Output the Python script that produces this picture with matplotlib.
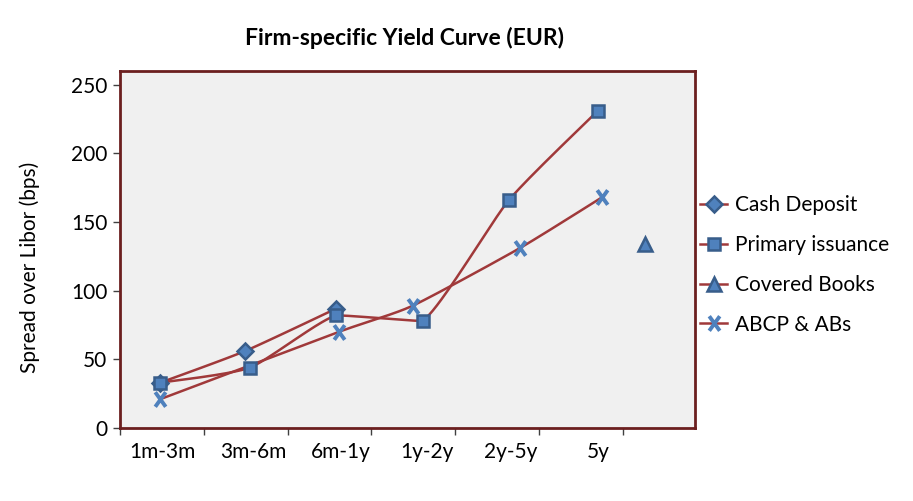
import numpy as np
import matplotlib
matplotlib.use("Agg")
import matplotlib.pyplot as plt
from matplotlib.lines import Line2D
from matplotlib.path import Path

# Данные
categories = ["1m-3m", "3m-6m", "6m-1y", "1y-2y", "2y-5y", "5y"]
category_x = [0.51, 1.59, 2.63, 3.66, 4.66, 5.70]

cash_x = [0.48, 1.49, 2.58]
cash_y = [33, 56, 87]

primary_x = [0.48, 1.55, 2.58, 3.61, 4.64, 5.70]
primary_y = [33, 44, 82, 78, 166, 231]

covered_x = [6.26]
covered_y = [134]

abcp_x = [0.48, 2.61, 3.49, 4.77, 5.75]
abcp_y = [21, 70, 89, 131, 168]

LINE = "#A0393A"
FILL = "#4F81BD"
EDGE = "#385D8A"
FRAME = "#6B1F1F"
FS = 15

# маркер в виде буквы X (выше, чем шире)
XMARK = Path([(-0.72, -1), (0.72, 1), (-0.72, 1), (0.72, -1)],
             [Path.MOVETO, Path.LINETO, Path.MOVETO, Path.LINETO])

plt.rcParams["font.family"] = ["Lato", "DejaVu Sans"]


def smooth(xs, ys, f=0.1, n=40):
    """Сглаживание линии (Безье), контрольные точки не выходят за отрезок по y"""
    p = np.column_stack([xs, ys]).astype(float)
    if len(p) < 3:
        return p[:, 0], p[:, 1]
    ext = np.vstack([p[0], p, p[-1]])
    out = []
    t = np.linspace(0, 1, n)[:, None]
    for i in range(1, len(ext) - 2):
        p0, p1, p2, p3 = ext[i - 1], ext[i], ext[i + 1], ext[i + 2]
        c1 = p1 + (p2 - p0) * f
        c2 = p2 - (p3 - p1) * f
        lo, hi = min(p1[1], p2[1]), max(p1[1], p2[1])
        c1[1] = np.clip(c1[1], lo, hi)
        c2[1] = np.clip(c2[1], lo, hi)
        seg = ((1 - t) ** 3) * p1 + 3 * ((1 - t) ** 2) * t * c1 \
            + 3 * (1 - t) * t ** 2 * c2 + t ** 3 * p2
        out.append(seg)
    out = np.vstack(out)
    return out[:, 0], out[:, 1]


fig = plt.figure(figsize=(9.13, 5.01), dpi=100)
ax = fig.add_axes([120 / 913, 73 / 501, 575 / 913, 357 / 501])
ax.set_facecolor("#F0F0F0")

for xs, ys in [(cash_x, cash_y), (primary_x, primary_y), (abcp_x, abcp_y)]:
    sx, sy = smooth(xs, ys)
    ax.plot(sx, sy, color=LINE, lw=1.8, zorder=2)

ax.plot(cash_x, cash_y, ls="none", marker="D", ms=8, mfc=FILL, mec=EDGE, mew=1.8, zorder=3)
ax.plot(primary_x, primary_y, ls="none", marker="s", ms=8.5, mfc=FILL, mec=EDGE, mew=1.8, zorder=4)
ax.plot(covered_x, covered_y, ls="none", marker="^", ms=10, mfc=FILL, mec=EDGE, mew=1.8, zorder=4)
ax.plot(abcp_x, abcp_y, ls="none", marker=XMARK, ms=10.5, mec=FILL, mew=2.8, zorder=5)

ax.set_xlim(0, 6.86)
ax.set_ylim(0, 260)
ax.set_xticks(range(0, 7))
ax.set_xticklabels([])
ax.set_xticks(category_x, minor=True)
ax.set_xticklabels(categories, minor=True)
ax.tick_params(axis="x", which="minor", length=0, pad=10, labelsize=FS)
ax.tick_params(axis="x", which="major", length=5, width=1, color="#404040", direction="out")
ax.set_yticks(range(0, 251, 50))
ax.tick_params(axis="y", length=5, width=1, color="#404040", direction="out", pad=4, labelsize=FS)

for s in ax.spines.values():
    s.set_color(FRAME)
    s.set_linewidth(2)

ax.set_ylabel("Spread over Libor (bps)", fontsize=FS)
ax.yaxis.set_label_coords(-0.139, 0.45)
fig.text(404 / 913, 1 - 38 / 501, "Firm-specific Yield Curve (EUR)", ha="center", va="center",
         fontsize=16.5, fontweight="bold")

handles = [
    Line2D([], [], color=LINE, lw=1.8, marker="D", ms=8, mfc=FILL, mec=EDGE, mew=1.8),
    Line2D([], [], color=LINE, lw=1.8, marker="s", ms=8.5, mfc=FILL, mec=EDGE, mew=1.8),
    Line2D([], [], color=LINE, lw=1.8, marker="^", ms=10, mfc=FILL, mec=EDGE, mew=1.8),
    Line2D([], [], color=LINE, lw=1.8, marker=XMARK, ms=10.5, mec=FILL, mew=2.8),
]
labels = ["Cash Deposit", "Primary issuance", "Covered Books", "ABCP & ABs"]
fig.legend(handles, labels, loc="center left", bbox_to_anchor=(700 / 913, 1 - 265 / 501),
           frameon=False, fontsize=FS, handlelength=1.3, handletextpad=0.4,
           labelspacing=0.95, borderaxespad=0, borderpad=0)

fig.savefig("out.png", dpi=100)
